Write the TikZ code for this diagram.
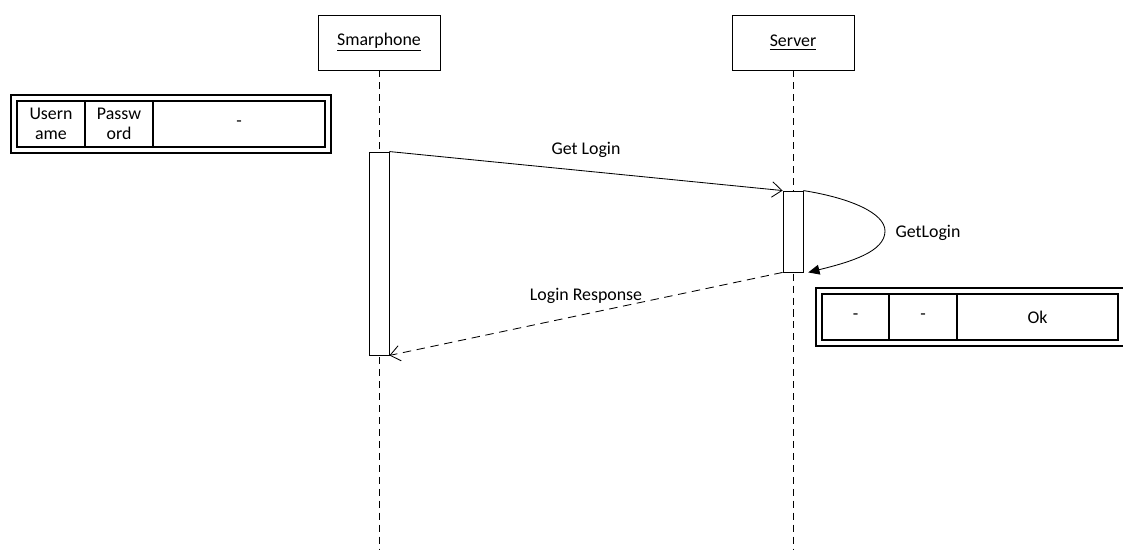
\documentclass[tikz,border=0pt]{standalone}
\usepackage{fontspec}
\setmainfont{Carlito}
\usetikzlibrary{
  arrows.meta,
  positioning,
  fit
}
\tikzset{
  life box/.style={
    draw, rectangle, fill=white,
    minimum width=3.05cm, minimum height=1.375cm,
    line width=0.6pt
  },
  act box/.style={
    draw, rectangle, fill=white,
    minimum width=0.5cm, line width=0.6pt
  },
  life line/.style={
    draw, line width=0.6pt, dash pattern=on 5pt off 3.5pt
  },
  call arrow/.style={
    -{Straight Barb[length=7pt,width=11pt]}, line width=0.6pt
  },
  reply arrow/.style={
    call arrow, dash pattern=on 6pt off 4pt
  },
  self arrow/.style={
    -{Triangle[length=8pt,width=7pt]}, line width=0.6pt
  },
  cell/.style={
    draw, rectangle, outer sep=0pt, inner sep=1pt,
    minimum height=1.15cm, align=center, line width=0.9pt
  },
  frame/.style={
    draw, rectangle, inner sep=0.15cm, line width=0.9pt
  },
}

\begin{document}
\begin{tikzpicture}[x=0.025cm, y=-0.025cm, font=\fontsize{12.7}{14.5}\selectfont]

  \useasboundingbox (0,0) rectangle (1123,550);

  % Lifeline heads
  \node[life box] (phone) at (379,42.5) {\underline{Smarphone}};
  \node[life box] (server) at (793,42.5) {\underline{Server}};
  \coordinate (phoneEnd) at (379,550);
  \coordinate (serverEnd) at (793,550);

  % Lifelines
  \draw[life line] (phone.south) -- (phoneEnd);
  \draw[life line] (server.south) -- (serverEnd);

  % Activations
  \node[act box, minimum height=5.075cm] (phoneAct) at (379,253.5) {};
  \node[act box, minimum height=2.025cm] (serverAct) at (793,231.5) {};

  % Messages
  \draw[call arrow] (phoneAct.north east) --
    node[above, yshift=6pt] {Get Login} (serverAct.north west);
  \draw[self arrow] (serverAct.north east)
    .. controls (850,198) and (885,213) .. (885,231)
    .. controls (885,252) and (850,262) .. ([xshift=0.12cm]serverAct.south east);
  \node (selfLbl) at (928,233) {GetLogin};
  \draw[reply arrow] (serverAct.south west) --
    node[above, yshift=4pt] {Login Response} (phoneAct.south east);

  % Request data
  \node[cell, minimum width=1.7cm] (user) at (51,124) {Usern\\ame};
  \node[cell, minimum width=1.7cm, right=0pt of user] (pass) {Passw\\ord};
  \node[cell, minimum width=4.3cm, right=0pt of pass] (reqRest) {-};
  \node[frame, fit=(user)(reqRest)] (reqFrame) {};

  % Response data
  \node[cell, minimum width=1.675cm] (resA) at (855.5,317) {-};
  \node[cell, minimum width=1.7cm, right=0pt of resA] (resB) {-};
  \node[cell, minimum width=4.025cm, right=0pt of resB] (resOk) {Ok};
  \node[frame, fit=(resA)(resOk)] (resFrame) {};

\end{tikzpicture}
\end{document}
